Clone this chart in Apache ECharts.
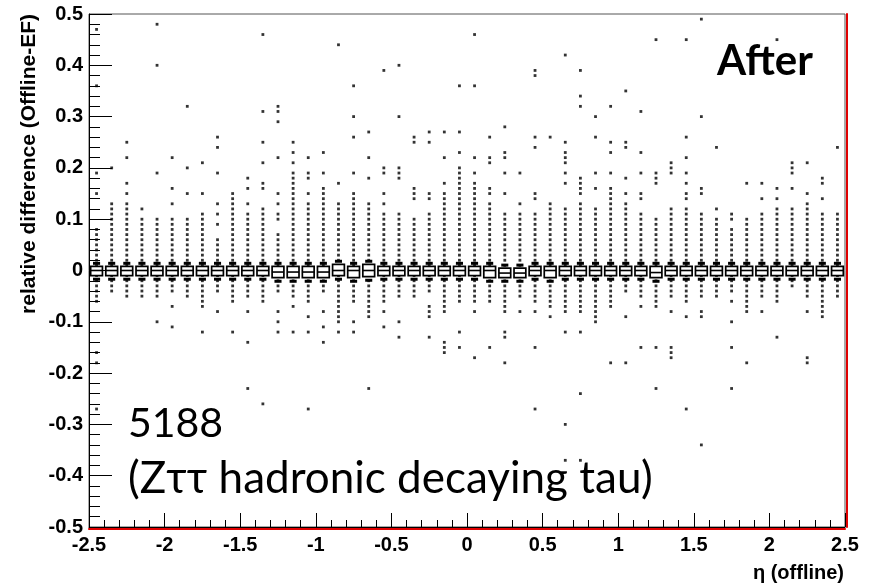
<!DOCTYPE html>
<html>
<head>
<meta charset="utf-8">
<script src="https://cdn.jsdelivr.net/npm/echarts@6/dist/echarts.min.js"></script>
<style>
  html, body { margin: 0; padding: 0; background: #fff; }
  #chart { width: 880px; height: 583px; }
</style>
</head>
<body>
<div id="chart"></div>
<script>
// centres of the 50 eta(offline) bins
var etaCenters = [-2.45, -2.35, -2.25, -2.15, -2.05, -1.95, -1.85, -1.75, -1.65, -1.55,
  -1.45, -1.35, -1.25, -1.15, -1.05, -0.95, -0.85, -0.75, -0.65, -0.55,
  -0.45, -0.35, -0.25, -0.15, -0.05, 0.05, 0.15, 0.25, 0.35, 0.45,
  0.55, 0.65, 0.75, 0.85, 0.95, 1.05, 1.15, 1.25, 1.35, 1.45,
  1.55, 1.65, 1.75, 1.85, 1.95, 2.05, 2.15, 2.25, 2.35, 2.45];

// box edges and median per bin, in units of 0.01
var boxHigh = [0.8, 0.8, 0.8, 0.8, 0.8, 0.8, 0.8, 0.8, 0.8, 0.8,
  0.8, 0.8, 0.8, 0.8, 0.8, 0.8, 1.2, 0.8, 1.2, 0.8,
  0.8, 0.8, 0.8, 0.8, 0.8, 0.8, 0.8, 0.45, 0.45, 0.8,
  0.8, 0.8, 0.8, 0.8, 0.8, 0.8, 0.8, 0.8, 0.8, 0.8,
  0.8, 0.8, 0.8, 0.8, 0.8, 0.8, 0.8, 0.8, 0.8, 0.8];
var boxMid = [0, 0, 0, 0, 0, 0, 0, 0, 0, 0,
  0, 0, -0.3, -0.3, -0.3, -0.3, 0, 0, 0, 0,
  0, 0, 0, 0, 0, 0, 0, -0.5, -0.5, 0,
  0, 0, 0, 0, 0, 0, 0, -0.4, 0, 0,
  0, 0, 0, 0, 0, 0, 0, 0, 0, 0];
var boxLow = [-1, -1, -1, -1, -1, -1, -1, -1, -1, -1,
  -1, -1, -1.4, -1.4, -1.4, -1.4, -1, -1.4, -1.2, -1,
  -1, -1, -1, -1, -1, -1, -1.4, -1.4, -1.4, -1,
  -1.4, -1, -1, -1, -1, -1, -1, -1.4, -1, -1,
  -1, -1, -1, -1, -1, -1, -1, -1, -1, -1];

// every marker drawn in each bin, in units of 0.01
var binDots = [
  [47,36,19,15,8,7,6,5,4,3,2,1,-1,-2,-3,-4,-5,-6,-16,-18,-27],
  [20,13,12,11,10,9,8,7,6,5,4,3,2,1,-1,-2,-3,-4],
  [25,22,17,15,13,12,11,10,9,8,7,6,5,4,3,2,1,-1,-2,-3,-4,-5],
  [12,10,9,8,7,6,5,4,3,2,1,-1,-2,-3,-4,-5],
  [48,40,19,10,9,8,7,6,5,4,3,2,1,-1,-2,-3,-4,-5,-10],
  [22,16,13,10,9,8,7,6,5,4,3,2,1,-1,-2,-3,-4,-7,-11],
  [32,20,15,10,9,8,7,6,5,4,3,2,1,-1,-2,-3,-4,-5],
  [21,15,11,10,9,8,7,6,5,4,3,2,1,-1,-2,-3,-4,-5,-6,-7,-12],
  [26,24,19,13,11,9,6,5,4,3,2,1,-1,-2,-3,-4,-8],
  [15,14,13,12,11,10,9,8,7,6,5,4,3,2,1,-1,-2,-3,-4,-5,-6,-12],
  [18,16,13,11,10,9,8,7,6,5,4,3,2,1,-1,-2,-3,-4,-5,-8,-14,-23],
  [46,31,25,21,17,16,12,11,10,9,8,7,6,5,4,3,2,1,-1,-2,-3,-4,-5,-6,-26],
  [32,31,29,22,15,13,11,10,7,6,5,4,3,2,1,-1,-2,-3,-4,-8,-10,-12],
  [25,23,21,19,18,17,16,15,14,13,12,11,10,9,8,7,6,5,4,3,2,1,-1,-2,-3,-4,-5,-7,-12],
  [22,19,18,15,13,12,11,10,9,8,7,6,5,4,3,2,1,-1,-2,-3,-4,-5,-6,-9,-12,-27],
  [23,19,16,15,14,13,12,11,10,9,8,7,6,5,4,3,2,1,-1,-2,-3,-4,-8,-11,-14],
  [44,17,13,12,11,10,9,8,7,6,5,4,3,2,1,-1,-2,-3,-4,-5,-6,-7,-8,-9,-10,-12],
  [36,30,26,19,15,14,13,12,11,10,9,8,7,6,5,4,3,2,1,-1,-2,-3,-4,-5,-6,-10,-12],
  [27,22,18,13,12,11,10,9,8,7,6,5,4,3,2,1,-1,-2,-3,-4,-5,-6,-7,-8,-9,-23],
  [39,20,19,15,13,11,10,9,8,7,6,5,4,3,2,1,-1,-2,-3,-4,-5,-6,-8,-11],
  [40,30,20,19,18,11,10,9,8,7,6,5,4,3,2,1,-1,-2,-3,-4,-5,-10,-13],
  [26,25,16,15,14,10,9,8,7,6,5,4,3,2,1,-1,-2,-3,-4,-5],
  [27,25,15,14,11,10,9,8,7,6,5,4,3,2,1,-1,-2,-3,-4,-7,-8,-9,-13],
  [27,22,17,15,14,13,12,11,10,9,8,7,6,5,4,3,2,1,-1,-2,-3,-4,-5,-6,-7,-8,-14,-15,-16],
  [36,27,23,20,19,18,17,16,15,14,13,12,11,10,9,8,7,6,5,4,3,2,1,-1,-2,-3,-4,-5,-6,-12,-15],
  [46,36,22,19,17,16,15,14,13,12,11,10,9,8,7,6,5,4,3,2,1,-1,-2,-3,-4,-5,-6,-8,-17],
  [26,22,21,16,15,13,12,11,10,9,8,7,6,5,4,3,2,1,-1,-2,-3,-4,-5,-6,-15],
  [28,23,22,19,15,11,10,9,8,7,6,5,4,3,2,1,-1,-2,-3,-4,-5,-6,-7,-8,-12,-13,-18],
  [19,13,11,10,9,8,7,6,5,4,3,2,1,-1,-2,-3,-4,-5,-8],
  [39,38,26,24,15,14,11,10,9,8,7,6,5,4,3,2,1,-1,-2,-3,-4,-5,-6,-8,-15,-27],
  [26,13,12,11,10,9,8,7,6,5,4,3,2,1,-1,-2,-3,-4,-5,-6,-7,-9],
  [42,25,23,22,21,19,17,12,11,10,9,8,7,6,5,4,3,2,1,-1,-2,-3,-4,-5,-6,-7,-8,-12,-30,-37],
  [39,34,32,18,17,16,15,13,12,11,10,9,8,7,6,5,4,3,2,1,-1,-2,-3,-4,-5,-6,-7,-8,-12,-24,-37],
  [30,26,19,16,12,11,10,9,8,7,6,5,4,3,2,1,-1,-2,-3,-4,-5,-6,-7,-8,-9,-10],
  [32,25,23,19,16,15,14,13,12,11,10,9,8,7,6,5,4,3,2,1,-1,-2,-3,-4,-5,-6,-7,-18],
  [35,25,24,18,15,13,12,11,10,9,8,7,6,5,4,3,2,1,-1,-2,-3,-4,-9,-18],
  [31,23,19,15,14,11,10,9,8,7,6,5,4,3,2,1,-1,-2,-3,-4,-5,-7,-15],
  [45,19,18,17,10,9,8,7,6,5,4,3,2,1,-1,-2,-3,-4,-5,-6,-7,-15,-23],
  [21,20,19,12,11,10,9,8,7,6,5,4,3,2,1,-1,-2,-3,-4,-5,-8,-15,-16,-17],
  [45,26,22,19,17,15,14,12,11,10,9,8,7,6,5,4,3,2,1,-1,-2,-3,-4,-5,-6,-9,-27],
  [49,30,16,15,11,10,9,8,7,6,5,4,3,2,1,-1,-2,-3,-4,-5,-8,-9,-34],
  [24,12,10,9,8,7,6,5,4,3,2,1,-1,-2,-3,-4,-5],
  [11,10,8,7,6,5,4,3,2,1,-1,-2,-3,-4,-6,-10,-15,-23],
  [17,10,9,8,7,6,5,4,3,2,1,-1,-2,-3,-4,-5,-6,-7,-8,-18],
  [17,14,11,10,9,8,7,6,5,4,3,2,1,-1,-2,-3,-4,-5,-8],
  [45,16,14,12,11,10,9,8,7,6,5,4,3,2,1,-1,-2,-3,-4,-5,-6,-13],
  [21,20,19,16,12,11,10,9,8,7,6,5,4,3,2,1,-1,-2,-3],
  [21,15,13,12,11,10,9,8,7,6,5,4,3,2,1,-1,-2,-3,-4,-5,-8,-17,-18],
  [18,17,14,11,10,9,8,7,6,5,4,3,2,1,-1,-2,-3,-4,-5,-6,-7,-8,-9],
  [24,11,10,9,8,7,6,5,4,3,2,1,-1,-2,-3,-4,-5]
];

var yTitle = 'relative difference (Offline-EF)';
var xTitle = 'η (offline)';

var dotData = [];
binDots.forEach(function (vals, i) {
  vals.forEach(function (h) { dotData.push([etaCenters[i], h / 100]); });
});
var boxData = etaCenters.map(function (x, i) {
  return [x, boxLow[i] / 100, boxMid[i] / 100, boxHigh[i] / 100];
});

function renderBox(params, api) {
  var x = api.value(0);
  var lo = api.coord([x, api.value(1)]);
  var md = api.coord([x, api.value(2)]);
  var hi = api.coord([x, api.value(3)]);
  var up = api.coord([x, api.value(3) + 0.006]);
  var dn = api.coord([x, api.value(1) - 0.007]);
  var w = api.size([0.1, 0])[0] * 0.78;
  var cw = w * 0.6;
  return {
    type: 'group',
    children: [
      { type: 'rect', shape: { x: up[0] - cw / 2, y: up[1] - 1.5, width: cw, height: 3 }, style: { fill: '#000' } },
      { type: 'rect', shape: { x: dn[0] - cw / 2, y: dn[1] - 1.5, width: cw, height: 3 }, style: { fill: '#000' } },
      { type: 'rect', shape: { x: hi[0] - w / 2, y: hi[1], width: w, height: lo[1] - hi[1] },
        style: { fill: '#fff', stroke: '#000', lineWidth: 1.7 } },
      { type: 'line', shape: { x1: md[0] - w / 2, y1: md[1], x2: md[0] + w / 2, y2: md[1] },
        style: { stroke: '#000', lineWidth: 1.6 } }
    ]
  };
}

var labelStyle = { fontFamily: 'Liberation Sans', fontWeight: 'bold', fontSize: 20, color: '#000' };
var fmt = function (v) { return String(+v.toFixed(1)); };

var chart = echarts.init(document.getElementById('chart'));
chart.setOption({
  animation: false,
  backgroundColor: '#fff',
  grid: { left: 89, right: 35, top: 14, bottom: 56, show: true, borderColor: '#555', borderWidth: 1 },
  xAxis: [{
    type: 'value', min: -2.5, max: 2.5, interval: 0.5,
    axisLine: { show: true, onZero: false, lineStyle: { color: '#000', width: 1 } },
    axisTick: { show: true, inside: true, length: 14, lineStyle: { color: '#000' } },
    minorTick: { show: true, splitNumber: 5, length: 7, lineStyle: { color: '#000' } },
    splitLine: { show: false },
    axisLabel: Object.assign({ margin: 8, formatter: fmt }, labelStyle)
  }, {
    type: 'value', position: 'bottom', offset: 1.5, min: -2.5, max: 2.5,
    axisLine: { show: true, onZero: false, lineStyle: { color: '#e00000', width: 2 } },
    axisTick: { show: false }, axisLabel: { show: false }, splitLine: { show: false }
  }],
  yAxis: [{
    type: 'value', min: -0.5, max: 0.5, interval: 0.1,
    axisLine: { show: true, onZero: false, lineStyle: { color: '#000', width: 1 } },
    axisTick: { show: true, inside: true, length: 23, lineStyle: { color: '#000' } },
    minorTick: { show: true, splitNumber: 5, length: 11, lineStyle: { color: '#000' } },
    splitLine: { show: false },
    axisLabel: Object.assign({ margin: 6, formatter: fmt }, labelStyle)
  }, {
    type: 'value', position: 'right', offset: 1.5, min: -0.5, max: 0.5,
    axisLine: { show: true, onZero: false, lineStyle: { color: '#e00000', width: 2 } },
    axisTick: { show: false }, axisLabel: { show: false }, splitLine: { show: false }
  }],
  series: [{
    type: 'scatter',
    data: dotData,
    symbol: 'rect',
    symbolSize: 2.8,
    itemStyle: { color: '#000' },
    z: 2
  }, {
    type: 'custom',
    data: boxData,
    renderItem: renderBox,
    z: 3
  }],
  graphic: [
    { type: 'text', x: 29, y: 14, rotation: Math.PI / 2,
      style: { text: yTitle, font: 'bold 21px "Liberation Sans"', fill: '#000',
        align: 'right', verticalAlign: 'middle', textAlign: 'right', textVerticalAlign: 'middle' } },
    { type: 'text', x: 844, y: 573,
      style: { text: xTitle, font: 'bold 20px "Liberation Sans"', fill: '#000',
        align: 'right', verticalAlign: 'middle', textAlign: 'right', textVerticalAlign: 'middle' } },
    { type: 'text', x: 717, y: 61,
      style: { text: 'After', font: 'bold 42px Lato', fill: '#000',
        align: 'left', verticalAlign: 'middle', textAlign: 'left', textVerticalAlign: 'middle' } },
    { type: 'text', x: 128, y: 424,
      style: { text: '5188', font: '41px Lato', fill: '#000',
        align: 'left', verticalAlign: 'middle', textAlign: 'left', textVerticalAlign: 'middle' } },
    { type: 'text', x: 128, y: 479,
      style: { text: '(Zττ hadronic decaying tau)', font: '44px Lato', fill: '#000',
        align: 'left', verticalAlign: 'middle', textAlign: 'left', textVerticalAlign: 'middle' } }
  ]
});
</script>
</body>
</html>
